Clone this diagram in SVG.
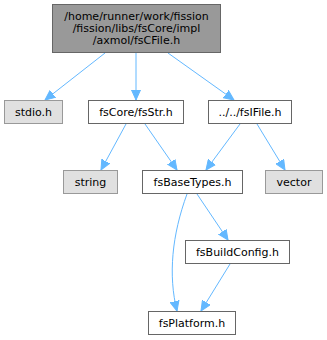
<svg xmlns="http://www.w3.org/2000/svg" width="327" height="340" viewBox="0 0 327 340">
<style>
.n rect{stroke:#666;stroke-width:1}
.w{fill:#fff}
.g{fill:#e0e0e0;stroke:#999!important}
.t{fill:#999}
text{font-family:"DejaVu Sans",sans-serif;font-size:11px;fill:#000;text-anchor:middle}
#edges path{fill:none;stroke:#63b8ff;stroke-width:1;marker-end:url(#ah)}
</style>
<defs>
<marker id="ah" markerUnits="userSpaceOnUse" markerWidth="12" markerHeight="10" refX="10" refY="5" orient="auto">
<path d="M0,0.5 L10,5 L0,9.5 Z" fill="#63b8ff" stroke="#63b8ff"/>
</marker>
</defs>
<rect width="327" height="340" fill="#fff"/>
<g id="edges">
<path d="M105,53 L45,100"/>
<path d="M136,53 L136,100"/>
<path d="M168,53 L234,100"/>
<path d="M126,124 L101,170"/>
<path d="M145,124 L177,170"/>
<path d="M240,124 L206,170"/>
<path d="M257,124 L285,170"/>
<path d="M187,194 C172,235 168,275 177,311"/>
<path d="M197,194 L228,240"/>
<path d="M230,264 L201,311"/>
</g>
<g id="n_top" class="n"><rect x="52.5" y="4.5" width="168" height="48" class="t"/>
<text x="136.5" y="19.5">/home/runner/work/fission</text>
<text x="136.5" y="31.5">/fission/libs/fsCore/impl</text>
<text x="136.5" y="43.5">/axmol/fsCFile.h</text></g>
<g id="n_stdio" class="n"><rect x="4.5" y="100.5" width="58" height="23" class="g"/><text x="33.5" y="116">stdio.h</text></g>
<g id="n_fsstr" class="n"><rect x="88.5" y="100.5" width="95" height="23" class="w"/><text x="136" y="116">fsCore/fsStr.h</text></g>
<g id="n_fsifile" class="n"><rect x="208.5" y="100.5" width="83" height="23" class="w"/><text x="250" y="116">../../fsIFile.h</text></g>
<g id="n_string" class="n"><rect x="63.5" y="170.5" width="54" height="23" class="g"/><text x="90.5" y="186">string</text></g>
<g id="n_basetypes" class="n"><rect x="142.5" y="170.5" width="100" height="23" class="w"/><text x="192.5" y="186">fsBaseTypes.h</text></g>
<g id="n_vector" class="n"><rect x="265.5" y="170.5" width="57" height="23" class="g"/><text x="294" y="186">vector</text></g>
<g id="n_buildconfig" class="n"><rect x="185.5" y="240.5" width="104" height="23" class="w"/><text x="237.5" y="256">fsBuildConfig.h</text></g>
<g id="n_platform" class="n"><rect x="148.5" y="311.5" width="87" height="23" class="w"/><text x="192" y="327">fsPlatform.h</text></g>
</svg>
